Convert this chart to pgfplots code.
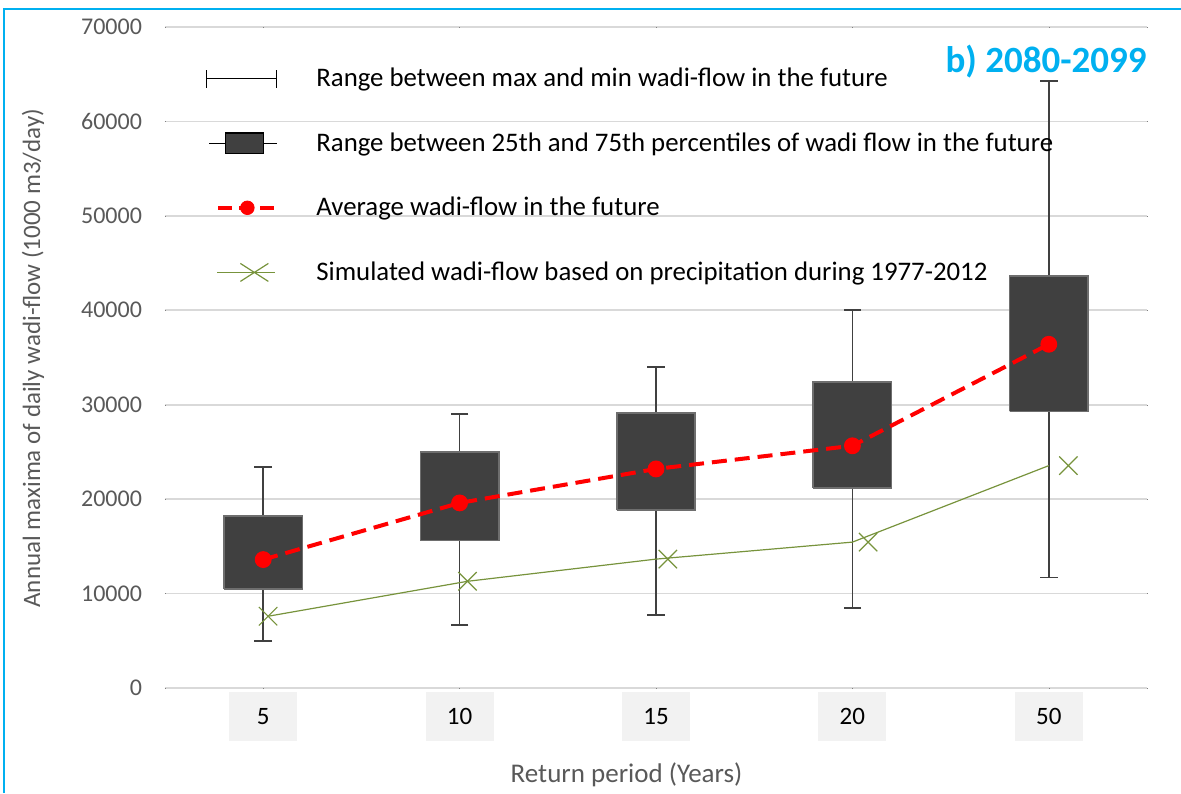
\documentclass[border=0pt]{standalone}
\usepackage{pgfplots}
\pgfplotsset{compat=1.18}
\usepackage{fontspec}
\setmainfont{Carlito}

\definecolor{gridgray}{HTML}{D9D9D9}
\definecolor{txtgray}{HTML}{595959}
\definecolor{boxfill}{HTML}{404040}
\definecolor{boxedge}{HTML}{6E6E6E}
\definecolor{whisk}{HTML}{404040}
\definecolor{simgreen}{HTML}{77933C}
\definecolor{titlecyan}{HTML}{00B0F0}
\definecolor{tickbox}{HTML}{F2F2F2}

\pgfplotsset{
  qbox/.style={fill=boxfill, draw=boxedge, line width=0.8pt, line join=miter, forget plot},
}

\begin{document}
\begin{tikzpicture}
\useasboundingbox (-82.5pt,-52.5pt) rectangle (508pt,344pt);
\draw[titlecyan, line width=0.8pt] (-80.5pt,-52.5pt) -- (-80.5pt,339.5pt) -- (508pt,339.5pt);
\begin{axis}[
  scale only axis, width=491pt, height=330.5pt,
  xmin=-0.5, xmax=4.5, ymin=0, ymax=70000,
  axis line style={draw=none},
  major tick length=0.1pt,
  ymajorgrids, major grid style={draw=gridgray, line width=0.8pt},
  ytick={0,10000,...,70000},
  scaled y ticks=false,
  xtick={0,1,2,3,4}, xticklabels={5,10,15,20,50},
  /pgf/number format/assume math mode=true,
  yticklabel style={/pgf/number format/fixed, /pgf/number format/1000 sep={},
    text=txtgray, font=\fontsize{12}{14}\selectfont, xshift=-8pt},
  xticklabel style={fill=tickbox, minimum width=34pt, minimum height=24.5pt,
    inner sep=0pt, text=black, font=\fontsize{12.5}{14}\selectfont, yshift=-2pt},
  ylabel={Annual maxima of daily wadi-flow (1000 m3/day)},
  xlabel={Return period (Years)},
  every axis y label/.style={at={(axis description cs:-0.1344,0.499)}, rotate=90,
    anchor=center, text=txtgray, font=\fontsize{12.5}{14}\selectfont},
  every axis x label/.style={at={(axis description cs:0.47,-0.1316)},
    anchor=center, text=txtgray, font=\fontsize{13.5}{15}\selectfont},
  legend cell align=left,
  legend style={at={(0.035,0.951)}, anchor=north west, draw=none, fill=none,
    font=\fontsize{13.4}{15.5}\selectfont, row sep=17.5pt, column sep=17pt},
  unbounded coords=jump,
]
\addlegendimage{legend image code/.code={
  \draw[black, line width=0.6pt] (0pt,-4.5pt) -- (0pt,4.5pt) (0pt,0pt) -- (35pt,0pt) (35pt,-4.5pt) -- (35pt,4.5pt);}}
\addlegendentry{Range between max and min wadi-flow in the future}
\addlegendimage{legend image code/.code={
  \draw[black, line width=0.6pt] (1.5pt,0pt) -- (35.5pt,0pt);
  \draw[black, fill=boxfill, line width=0.8pt] (9.5pt,-5.2pt) rectangle (28.5pt,5.2pt);}}
\addlegendentry{Range between 25th and 75th percentiles of wadi flow in the future}
\addlegendimage{legend image code/.code={
  \draw[red, line width=2pt, dash pattern=on 7pt off 3.5pt] (6pt,0pt) -- (35pt,0pt);
  \fill[red] (20.5pt,0pt) circle (3.4pt);}}
\addlegendentry{Average wadi-flow in the future}
\addlegendimage{legend image code/.code={
  \draw[simgreen, line width=0.6pt] (5.5pt,0pt) -- (34.5pt,0pt);
  \draw[simgreen, line width=0.6pt] (17pt,-4.5pt) -- (31pt,4.5pt) (17pt,4.5pt) -- (31pt,-4.5pt);}}
\addlegendentry{Simulated wadi-flow based on precipitation during 1977-2012}

% min-max whiskers
\addplot[whisk, line width=0.8pt, mark=-, mark size=4.4pt, mark options={solid}, forget plot] coordinates {
  (0,5000) (0,23400) (0,nan)
  (1,6700) (1,29000) (1,nan)
  (2,7700) (2,34000) (2,nan)
  (3,8500) (3,40000) (3,nan)
  (4,11700) (4,64300)};

% 25th-75th percentile boxes
\addplot[qbox] coordinates {(-0.2,10500) (0.2,10500) (0.2,18200) (-0.2,18200) (-0.2,10500)};
\addplot[qbox] coordinates {(0.8,15600) (1.2,15600) (1.2,25000) (0.8,25000) (0.8,15600)};
\addplot[qbox] coordinates {(1.8,18850) (2.2,18850) (2.2,29100) (1.8,29100) (1.8,18850)};
\addplot[qbox] coordinates {(2.8,21200) (3.2,21200) (3.2,32400) (2.8,32400) (2.8,21200)};
\addplot[qbox] coordinates {(3.8,29300) (4.2,29300) (4.2,43600) (3.8,43600) (3.8,29300)};

% simulated flow: line at category, marks slightly offset
\addplot[simgreen, line width=0.6pt, no marks, forget plot] coordinates {
  (0.025,7600) (1.04,11300) (2,13650) (3,15450) (4,23550)};
\addplot[simgreen, only marks, mark=x, mark size=6.5pt, mark options={line width=0.6pt}, forget plot] coordinates {
  (0.025,7600) (1.04,11300) (2.06,13650) (3.08,15450) (4.1,23550)};

% average future flow
\addplot[red, line width=2pt, dash pattern=on 7.5pt off 4pt, mark=*, mark size=3.2pt,
  mark options={solid, fill=red, draw=red}, forget plot] coordinates {
  (0,13600) (1,19600) (2,23200) (3,25650) (4,36400)};

\node[anchor=east, inner sep=0pt, text=titlecyan, font=\fontsize{18.5}{20}\selectfont\bfseries]
  at (rel axis cs:1,0.947) {b) 2080-2099};
\end{axis}
\end{tikzpicture}
\end{document}
